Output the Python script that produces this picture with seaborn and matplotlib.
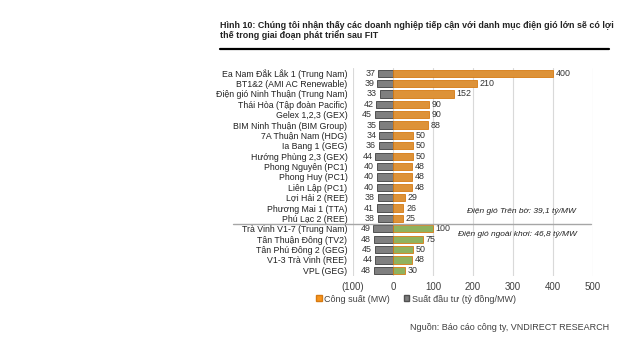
import numpy as np
import pandas as pd
import seaborn as sns
import matplotlib.pyplot as plt
import matplotlib.transforms as mtransforms
from matplotlib.patches import Patch

# Data
projects = ['Ea Nam Đắk Lắk 1 (Trung Nam)', 'BT1&2 (AMI AC Renewable)',
            'Điện gió Ninh Thuận (Trung Nam)', 'Thái Hòa (Tập đoàn Pacific)',
            'Gelex 1,2,3 (GEX)', 'BIM Ninh Thuận (BIM Group)', '7A Thuận Nam (HDG)',
            'Ia Bang 1 (GEG)', 'Hướng Phùng 2,3 (GEX)', 'Phong Nguyên (PC1)',
            'Phong Huy (PC1)', 'Liên Lập (PC1)', 'Lợi Hải 2 (REE)',
            'Phương Mai 1 (TTA)', 'Phú Lạc 2 (REE)', 'Trà Vinh V1-7 (Trung Nam)',
            'Tân Thuận Đông (TV2)', 'Tân Phú Đông 2 (GEG)', 'V1-3 Trà Vinh (REE)',
            'VPL (GEG)']
capacity = [400, 210, 152, 90, 90, 88, 50, 50, 50, 48, 48, 48, 29, 26, 25,
            100, 75, 50, 48, 30]
invest = [37, 39, 33, 42, 45, 35, 34, 36, 44, 40, 40, 40, 38, 41, 38,
          49, 48, 45, 44, 48]
kind = ['onshore'] * 15 + ['offshore'] * 5
xticks = [-100, 0, 100, 200, 300, 400, 500]
xticklabels = ['(100)', '0', '100', '200', '300', '400', '500']

df = pd.DataFrame({'project': projects, 'capacity': capacity,
                   'invest': invest, 'kind': kind})
df['invest_neg'] = -df['invest']

ORANGE, ORANGE_E = '#F8951D', '#D67A12'
GREEN, GREEN_E = '#92C050', '#77A53A'
GREY, GREY_E = '#7F7F7F', '#505050'

sns.set_theme(style='white')
plt.rcParams['font.family'] = ['Liberation Sans', 'DejaVu Sans']

fig = plt.figure(figsize=(6.4, 3.55), dpi=100)
ax = fig.add_axes([353 / 640, 1 - 275.5 / 355, 240 / 640, 207.5 / 355])

# grey bars (investment) drawn to the left of zero
sns.barplot(data=df, x='invest_neg', y='project', color=GREY, width=0.7,
            edgecolor=GREY_E, linewidth=0.7, ax=ax, orient='h', zorder=3)
# capacity bars, orange for onshore, green for offshore
sns.barplot(data=df, x='capacity', y='project', hue='kind',
            palette={'onshore': ORANGE, 'offshore': GREEN}, width=0.7,
            dodge=False, legend=False, linewidth=0.6, ax=ax, orient='h', zorder=3)
for bar in ax.patches[len(df):]:
    fc = bar.get_facecolor()
    bar.set_edgecolor(GREEN_E if fc[1] > 0.7 else ORANGE_E)

for i, (c, v) in enumerate(zip(capacity, invest)):
    ax.text(c + 7, i, str(c), va='center', ha='left', fontsize=6.4, color='#333333')
    ax.text(-v - 7, i, str(v), va='center', ha='right', fontsize=6.4, color='#333333')

ax.set_xlim(-100, 500)
ax.set_ylim(len(df) - 0.5, -0.5)
ax.set_xticks(xticks)
ax.set_xticklabels(xticklabels, fontsize=7, color='#404040')
ax.tick_params(axis='y', labelsize=6.3, length=0, pad=4, labelcolor='#222222')
ax.tick_params(axis='x', length=0, pad=5)
ax.set_xlabel('')
ax.set_ylabel('')
ax.grid(axis='x', color='#D9D9D9', linewidth=0.8, zorder=0)
for s in ax.spines.values():
    s.set_visible(False)

# separator between onshore and offshore
trans = mtransforms.blended_transform_factory(ax.transAxes, ax.transData)
ax.plot([-0.5, 0.99], [14.5, 14.5], transform=trans, color='#A6A6A6',
        linewidth=1, clip_on=False, zorder=4)

ax.text(322, 13.3, 'Điện gió Trên bờ: 39,1 tỷ/MW', ha='center', va='center',
        fontsize=6.0, style='italic', color='#222222')
ax.text(310, 15.55, 'Điện gió ngoài khơi: 46,8 tỷ/MW', ha='center', va='center',
        fontsize=6.0, style='italic', color='#222222')

handles = [Patch(facecolor=ORANGE, edgecolor=ORANGE_E, label='Công suất (MW)'),
           Patch(facecolor=GREY, edgecolor=GREY_E, label='Suất đầu tư (tỷ đồng/MW)')]
fig.legend(handles=handles, loc='center', bbox_to_anchor=(416 / 640, 1 - 299 / 355),
           ncol=2, frameon=False, fontsize=6.5, handlelength=0.6, handleheight=0.6,
           handletextpad=0.3, columnspacing=1.5, labelcolor='#404040')

fig.text(220 / 640, 1 - 25 / 355,
         'Hình 10: Chúng tôi nhận thấy các doanh nghiệp tiếp cận với danh mục điện gió lớn sẽ có lợi',
         fontsize=6.4, fontweight='bold', va='center', ha='left', color='#222222')
fig.text(220 / 640, 1 - 35 / 355, 'thế trong giai đoạn phát triển sau FIT',
         fontsize=6.4, fontweight='bold', va='center', ha='left', color='#222222')
fig.add_artist(plt.Line2D([220 / 640, 609 / 640], [1 - 49 / 355, 1 - 49 / 355],
                          color='black', linewidth=1.6, transform=fig.transFigure))
fig.text(609 / 640, 1 - 328 / 355, 'Nguồn: Báo cáo công ty, VNDIRECT RESEARCH',
         fontsize=6.5, ha='right', va='center', color='#404040')

fig.savefig('out.png', dpi=100)
